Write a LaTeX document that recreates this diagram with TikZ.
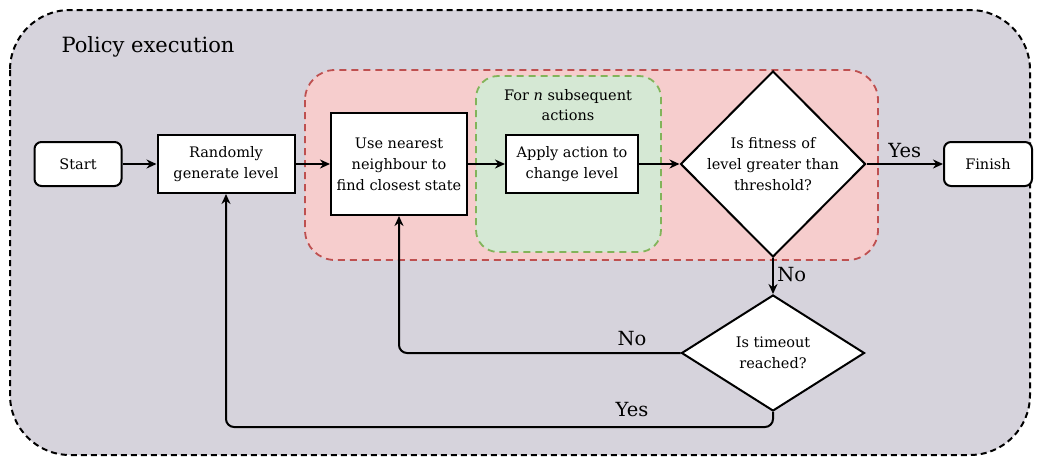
\documentclass[tikz,border=0pt]{standalone}
\usepackage{fontspec}
\setmainfont{DejaVu Serif}
\usetikzlibrary{shapes.geometric,arrows.meta}
\definecolor{outerbg}{RGB}{214,211,220}
\definecolor{redbg}{RGB}{246,205,205}
\definecolor{redln}{RGB}{190,80,80}
\definecolor{greenbg}{RGB}{213,232,212}
\definecolor{greenln}{RGB}{130,180,90}
\tikzset{
  box/.style={draw, fill=white, line width=2pt, align=center, font=\fontsize{14.5}{21}\selectfont, inner sep=2pt},
  term/.style={box, rounded corners=7pt},
  dec/.style={draw, fill=white, diamond, line width=2pt, align=center, font=\fontsize{14.5}{21}\selectfont, inner sep=0pt},
  conn/.style={line width=2pt, -{Stealth[length=10pt,width=9pt]}},
  lbl/.style={font=\fontsize{19.5}{23}\selectfont},
}
\begin{document}
\begin{tikzpicture}[x=1pt,y=-1pt]
\useasboundingbox (0,0) rectangle (1037,464);
% regions
\draw[fill=outerbg, line width=2pt, rounded corners=60pt, dash pattern=on 6pt off 4pt] (10,10) rectangle (1030,455);
\node[anchor=west, font=\fontsize{21}{25}\selectfont] (title) at (58,47) {Policy execution};
\draw[fill=redbg, draw=redln, line width=1.8pt, rounded corners=30pt, dash pattern=on 7pt off 5pt] (305,70) rectangle (878,260);
\draw[fill=greenbg, draw=greenln, line width=1.8pt, rounded corners=22pt, dash pattern=on 7pt off 5pt] (476,76) rectangle (661,252);
\node[align=center, font=\fontsize{14.5}{20}\selectfont] (forn) at (568,105) {For \emph{n} subsequent\\actions};
% nodes
\node[term, minimum width=87pt, minimum height=44pt] (start) at (78,164) {Start};
\node[box, minimum width=137pt, minimum height=58pt] (rand) at (226,164) {Randomly\\generate level};
\node[box, minimum width=136pt, minimum height=102pt] (nn) at (399,164) {Use nearest\\neighbour to\\find closest state};
\node[box, minimum width=132pt, minimum height=58pt] (apply) at (572,164) {Apply action to\\change level};
\node[dec, minimum width=183pt, minimum height=186pt] (fit) at (773,164) {Is fitness of\\level greater than\\threshold?};
\node[term, minimum width=88pt, minimum height=44pt] (finish) at (988,164) {Finish};
\node[dec, minimum width=183pt, minimum height=116pt] (tout) at (773,353) {Is timeout\\reached?};
% connectors
\draw[conn] (start) -- (rand);
\draw[conn] (rand) -- (nn);
\draw[conn] (nn) -- (apply);
\draw[conn] (apply) -- (fit);
\draw[conn] (fit) -- node[lbl, above, yshift=2pt] {Yes} (finish);
\draw[conn] (fit) -- node[lbl, right, pos=0.45] {No} (tout);
\draw[conn, rounded corners=8pt] (tout.west) -- (nn.south |- tout.west) -- (nn.south);
\node[lbl] (nolbl) at (632,339) {No};
\coordinate (yb) at (773,427);
\draw[conn, rounded corners=8pt] (tout.south) -- (yb) -- (rand.south |- yb) -- (rand.south);
\node[lbl] (yeslbl) at (632,410) {Yes};
\end{tikzpicture}
\end{document}
